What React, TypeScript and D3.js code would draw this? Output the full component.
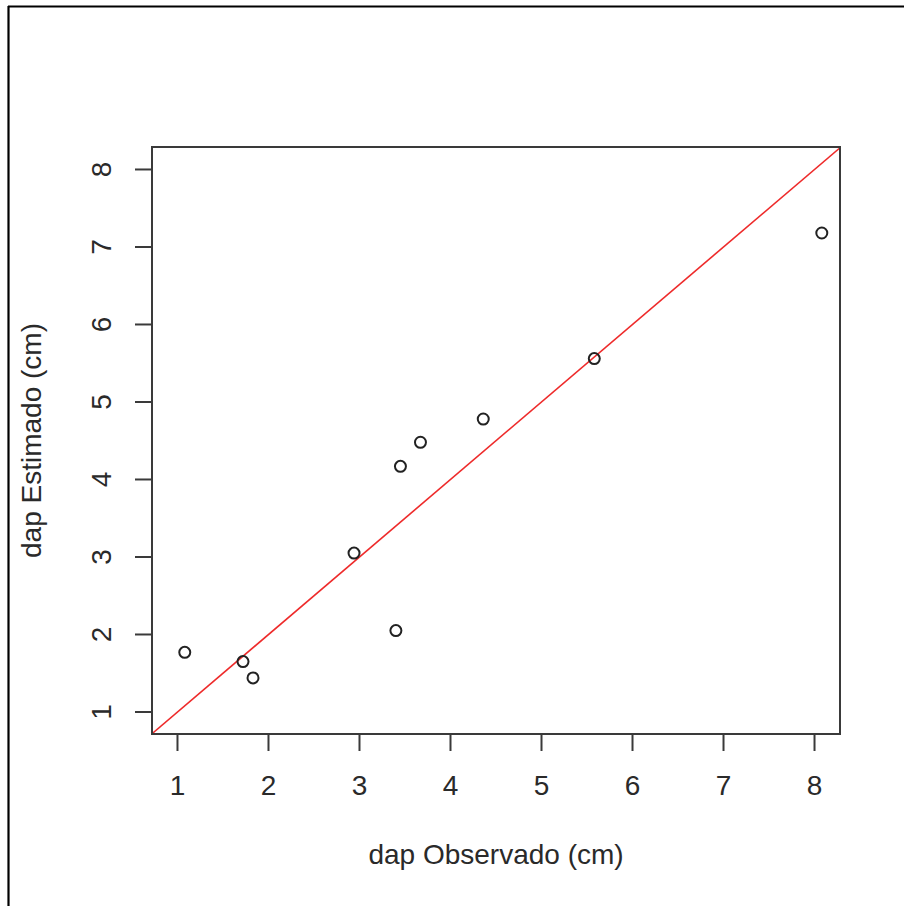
import React from "react";
import * as d3 from "d3";

const observed = [1.08, 1.72, 1.83, 2.94, 3.4, 3.45, 3.67, 4.36, 5.58, 8.08];
const estimated = [1.77, 1.65, 1.44, 3.05, 2.05, 4.17, 4.48, 4.78, 5.56, 7.18];
const xTicks = [1, 2, 3, 4, 5, 6, 7, 8];
const yTicks = [1, 2, 3, 4, 5, 6, 7, 8];
const xDomain = [0.72, 8.28];
const yDomain = [0.716, 8.29];
const xLabel = "dap Observado (cm)";
const yLabel = "dap Estimado (cm)";

export default function App() {
  const W = 904, H = 906;
  const L = 152, R = 840, T = 147, B = 734;
  const x = d3.scaleLinear().domain(xDomain).range([L, R]);
  const y = d3.scaleLinear().domain(yDomain).range([B, T]);
  const font = "'Liberation Sans', Arial, sans-serif";
  const axisColor = "#3a3a3a";
  const textColor = "#2a2a2a";
  const tick = 17;
  const lo = Math.max(xDomain[0], yDomain[0]);
  const hi = Math.min(xDomain[1], yDomain[1]);
  const line = d3.line<number>().x((d) => x(d)).y((d) => y(d));
  return (
    <svg width={W} height={H} style={{ position: "absolute", left: 0, top: 0, background: "#fff" }}>
      <defs>
        <clipPath id="plotclip">
          <rect x={L} y={T} width={R - L} height={B - T} />
        </clipPath>
      </defs>
      {/* outer border */}
      <line x1={8.5} y1={6} x2={8.5} y2={H} stroke="#000" strokeWidth={2.2} />
      <line x1={8} y1={6.5} x2={W} y2={6.5} stroke="#000" strokeWidth={2.2} />

      {/* reference line y = x */}
      <path d={line([lo, hi]) || ""} stroke="#ee2a2a" strokeWidth={1.6} fill="none" clipPath="url(#plotclip)" />

      {/* points */}
      {observed.map((o, i) => (
        <circle key={i} cx={x(o)} cy={y(estimated[i])} r={5.5} fill="none" stroke="#222" strokeWidth={2} />
      ))}

      {/* plot box */}
      <rect x={L} y={T} width={R - L} height={B - T} fill="none" stroke={axisColor} strokeWidth={2} />

      {/* x axis */}
      {xTicks.map((t) => (
        <g key={"x" + t}>
          <line x1={x(t)} x2={x(t)} y1={B} y2={B + tick} stroke={axisColor} strokeWidth={2} />
          <text x={x(t)} y={795} textAnchor="middle" fontFamily={font} fontSize={28} fill={textColor}>
            {t}
          </text>
        </g>
      ))}
      {/* y axis */}
      {yTicks.map((t) => (
        <g key={"y" + t}>
          <line x1={L - tick} x2={L} y1={y(t)} y2={y(t)} stroke={axisColor} strokeWidth={2} />
          <text
            transform={`translate(${111},${y(t)}) rotate(-90)`}
            textAnchor="middle"
            fontFamily={font}
            fontSize={28}
            fill={textColor}
          >
            {t}
          </text>
        </g>
      ))}

      {/* axis titles */}
      <text x={(L + R) / 2} y={864} textAnchor="middle" fontFamily={font} fontSize={28} fill={textColor}>
        {xLabel}
      </text>
      <text
        transform={`translate(${41},${(T + B) / 2}) rotate(-90)`}
        textAnchor="middle"
        fontFamily={font}
        fontSize={28}
        fill={textColor}
      >
        {yLabel}
      </text>
    </svg>
  );
}
